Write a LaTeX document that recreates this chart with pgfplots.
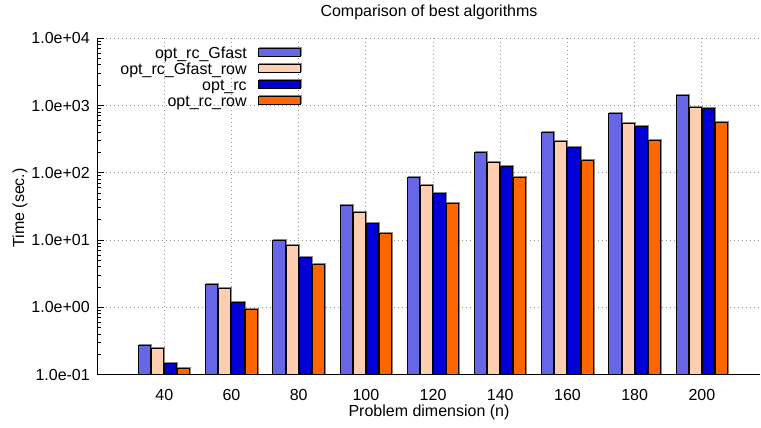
\documentclass[border=0pt]{standalone}
\usepackage{fontspec}
\setmainfont{Liberation Sans}
\usepackage{pgfplots}
\pgfplotsset{compat=1.18}
\definecolor{cA}{RGB}{102,102,230}
\definecolor{cB}{RGB}{255,206,176}
\definecolor{cC}{RGB}{0,0,214}
\definecolor{cD}{RGB}{255,102,0}
\definecolor{gridc}{RGB}{150,150,150}
\definecolor{shadowc}{RGB}{135,135,135}
\tikzset{barshadow/.style={preaction={draw=shadowc, fill=none, line width=1.2bp, transform canvas={xshift=0.9bp,yshift=0.9bp}}}}
\begin{document}
\begin{tikzpicture}[font=\fontsize{16bp}{19bp}\selectfont]
\begin{axis}[
  at={(0,0)}, anchor=south west,
  scale only axis, width=662bp, height=336.5bp,
  ymode=log, ymin=0.1, ymax=10000, log origin=infty,
  xmin=20.27, xmax=217.3,
  /pgf/number format/assume math mode=true,
  axis x line*=bottom, axis y line*=left,
  axis line style={line width=1bp, black},
  xtick={40,60,80,100,120,140,160,180,200},
  xtick style={draw=none},
  ytick={0.1,1,10,100,1000,10000},
  yticklabels={1.0e-01,1.0e+00,1.0e+01,1.0e+02,1.0e+03,1.0e+04},
  minor ytick={0.2,0.3,0.4,0.5,0.6,0.7,0.8,0.9,2,3,4,5,6,7,8,9,20,30,40,50,60,70,80,90,200,300,400,500,600,700,800,900,2000,3000,4000,5000,6000,7000,8000,9000},
  tick align=inside, major tick length=6bp, minor tick length=3bp,
  ytick style={black, line width=1bp},
  xmajorgrids, ymajorgrids,
  major grid style={gridc, line width=0.9bp, dash pattern=on 1bp off 3bp},
  tick label style={font=\fontsize{16bp}{19bp}\selectfont},
  xticklabel style={yshift=-5bp},
  yticklabel style={xshift=-4.7bp},
  ybar=1bp, bar width=12.1bp,
  title={Comparison of best algorithms},
  title style={at={(axis description cs:0.5,1.0585)}, anchor=center, inner sep=0pt, font=\fontsize{16bp}{19bp}\selectfont},
  xlabel={Problem dimension (n)},
  xlabel style={at={(axis description cs:0.5,-0.1132)}, anchor=center, inner sep=0pt, font=\fontsize{16bp}{19bp}\selectfont},
  ylabel={Time (sec.)},
  ylabel style={at={(axis description cs:-0.1178,0.4955)}, anchor=center, inner sep=0pt, font=\fontsize{16bp}{19bp}\selectfont},
  legend cell align=right, legend plot pos=right,
  legend style={draw=none, fill=none, at={(axis description cs:0.3062,0.9735)}, anchor=north east,
    inner sep=0pt, outer sep=0pt, row sep=0pt, column sep=11bp,
    nodes={inner sep=0pt, text height=11.5bp, text depth=4.5bp},
    font=\fontsize{16bp}{19bp}\selectfont},
  legend image code/.code={\draw[#1,line width=1bp] (0bp,-1bp) rectangle (42bp,7bp);},
]
\addplot[fill=cA, draw=black, line width=1bp, barshadow] coordinates {(40,0.27) (60,2.2) (80,10.0) (100,33) (120,85.5) (140,199) (160,403) (180,773) (200,1400)};
\addlegendentry{opt\_rc\_Gfast}
\addplot[fill=cB, draw=black, line width=1bp, barshadow] coordinates {(40,0.247) (60,1.88) (80,8.4) (100,25.3) (120,64.3) (140,143) (160,287) (180,543) (200,938)};
\addlegendentry{opt\_rc\_Gfast\_row}
\addplot[fill=cC, draw=black, line width=1bp, barshadow] coordinates {(40,0.147) (60,1.19) (80,5.6) (100,17.9) (120,49.5) (140,123) (160,241) (180,484) (200,896)};
\addlegendentry{opt\_rc}
\addplot[fill=cD, draw=black, line width=1bp, barshadow] coordinates {(40,0.124) (60,0.94) (80,4.37) (100,12.4) (120,34.7) (140,86.5) (160,153) (180,307) (200,561)};
\addlegendentry{opt\_rc\_row}
\end{axis}
\pgfresetboundingbox
\useasboundingbox (-98bp,-53.3bp) rectangle (663bp,374.7bp);
\end{tikzpicture}
\end{document}
